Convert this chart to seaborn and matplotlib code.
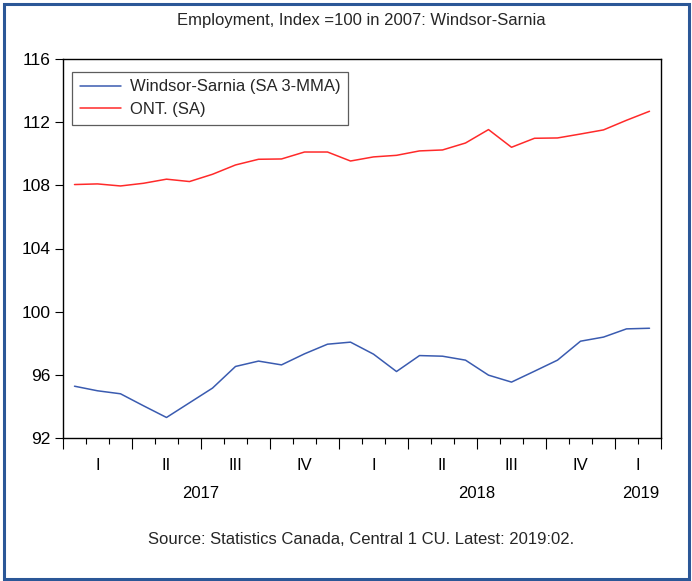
import matplotlib
matplotlib.use("Agg")
import matplotlib.pyplot as plt
import matplotlib.transforms as mtransforms
from matplotlib.patches import Rectangle
from matplotlib.ticker import MultipleLocator, FixedLocator, NullFormatter
import numpy as np
import pandas as pd
import seaborn as sns

# Monthly series, 2017:01 .. 2019:02
months = pd.period_range("2017-01", "2019-02", freq="M").astype(str).tolist()
windsor_sarnia = [95.28, 94.99, 94.80, 94.04, 93.30, 94.23, 95.16, 96.53, 96.87, 96.63,
                  97.33, 97.94, 98.07, 97.31, 96.21, 97.22, 97.18, 96.93, 95.98, 95.54,
                  96.23, 96.93, 98.13, 98.39, 98.91, 98.95]
ontario = [108.05, 108.09, 107.96, 108.13, 108.39, 108.24, 108.70, 109.29, 109.65, 109.67,
           110.11, 110.11, 109.54, 109.80, 109.90, 110.18, 110.24, 110.68, 111.53, 110.41,
           110.98, 111.00, 111.25, 111.51, 112.12, 112.69]
series_names = ["Windsor-Sarnia (SA 3-MMA)", "ONT. (SA)"]
quarter_labels = ["I", "II", "III", "IV", "I", "II", "III", "IV", "I"]
year_labels = ["2017", "2018", "2019"]
y_ticks = [92, 96, 100, 104, 108, 112, 116]

title = "Employment, Index =100 in 2007: Windsor-Sarnia"
source = "Source: Statistics Canada, Central 1 CU. Latest: 2019:02."

sns.set_theme(style="white")
plt.rcParams["font.family"] = ["Liberation Sans", "DejaVu Sans"]

# month i is drawn at the centre of its slot [i, i+1]
pos = np.arange(len(months)) + 0.5
df = pd.DataFrame({
    "pos": np.concatenate([pos, pos]),
    "value": windsor_sarnia + ontario,
    "series": [series_names[0]] * len(months) + [series_names[1]] * len(months),
})

fig = plt.figure(figsize=(6.92, 5.81), dpi=100)
ax = fig.add_axes([63 / 692, 1 - 438 / 581, 598 / 692, 379 / 581])

sns.lineplot(data=df, x="pos", y="value", hue="series",
             palette={series_names[0]: "#3a5bb0", series_names[1]: "#ff2a2a"},
             linewidth=1.1, ax=ax, legend=True)

ax.set_xlim(0, len(months))
ax.set_ylim(92, 116)
ax.set_xlabel("")
ax.set_ylabel("")

for s in ax.spines.values():
    s.set_visible(True)
    s.set_color("black")
    s.set_linewidth(1.0)

ax.yaxis.set_major_locator(FixedLocator(y_ticks))
ax.tick_params(axis="y", direction="out", length=6, width=0.8, labelsize=12.5,
               colors="black", pad=3, left=True)

# quarter boundaries as major ticks, months as minor ticks
n = len(months)
ax.xaxis.set_major_locator(FixedLocator(list(range(0, n, 3)) + [n]))
ax.xaxis.set_minor_locator(MultipleLocator(1))
ax.xaxis.set_major_formatter(NullFormatter())
ax.tick_params(axis="x", which="major", direction="out", length=8, width=0.8,
               colors="black", bottom=True)
ax.tick_params(axis="x", which="minor", direction="out", length=4, width=0.8,
               colors="black", bottom=True)

trans = mtransforms.blended_transform_factory(ax.transData, fig.transFigure)
q_centers = [1.5 + 3 * k for k in range(8)] + [25.0]
for xc, lab in zip(q_centers, quarter_labels):
    ax.text(xc, 1 - 466 / 581, lab, transform=trans, ha="center", va="center",
            fontsize=12, color="black")
for xc, lab in zip([6, 18, 25.1], year_labels):
    ax.text(xc, 1 - 494 / 581, lab, transform=trans, ha="center", va="center",
            fontsize=12, color="black")

leg = ax.legend(loc="upper left", bbox_to_anchor=(9 / 598, 1 - 13 / 379),
                fontsize=12, frameon=True, fancybox=False, handlelength=2.5,
                handletextpad=0.5, borderpad=0.45, labelspacing=0.45,
                borderaxespad=0)
leg.get_frame().set_edgecolor("#333333")
leg.get_frame().set_linewidth(0.9)
for h in leg.get_lines():
    h.set_linewidth(1.1)

fig.text(361 / 692, 1 - 20 / 581, title, ha="center", va="center", fontsize=12)
fig.text(361 / 692, 1 - 540 / 581, source, ha="center", va="center", fontsize=12)

# outer frame
fig.patches.append(Rectangle((4 / 692, 2.5 / 581), 685 / 692, 575 / 581,
                             transform=fig.transFigure, fill=False,
                             edgecolor="#2b5797", linewidth=2.2))

fig.savefig("out.png", dpi=100)
